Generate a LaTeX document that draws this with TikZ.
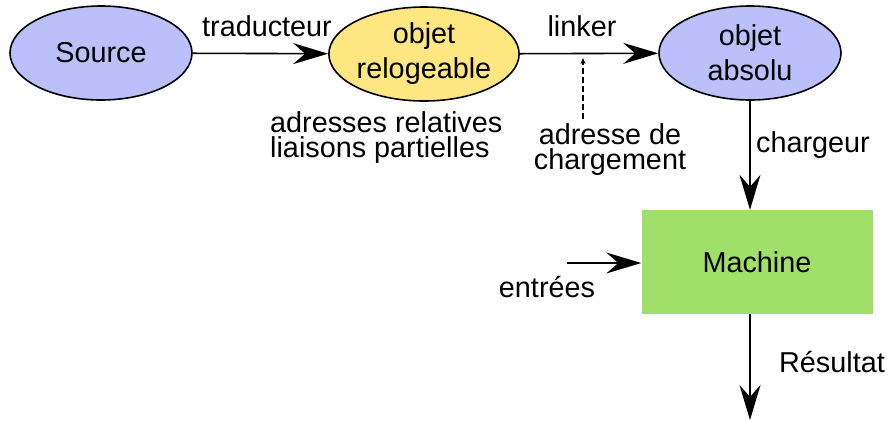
\documentclass[tikz,border=0pt]{standalone}
\usepackage{fontspec}
\setmainfont{Liberation Sans}
\usetikzlibrary{shapes.geometric,arrows.meta}
\definecolor{lav}{RGB}{187,191,250}
\definecolor{yel}{RGB}{254,230,128}
\definecolor{grn}{RGB}{160,224,106}
\begin{document}
\begin{tikzpicture}[x=1pt,y=-1pt,
  every node/.style={font=\fontsize{28.8}{35}\selectfont, inner sep=0pt},
  blob/.style={ellipse, draw, line width=1.6pt, minimum width=182pt, minimum height=94pt, align=center},
  captxt/.style={align=left, font=\fontsize{28.8}{25}\selectfont, anchor=base west},
  lbl/.style={anchor=base},
  flow/.style={line width=1.6pt, -{Stealth[length=35pt,width=21pt,inset=12pt]}},
  hint/.style={line width=1.3pt, dash pattern=on 6pt off 3pt, -{Stealth[length=6pt,width=5pt]}}]
\useasboundingbox (0,0) rectangle (887,421);
\node[blob, fill=lav] (src) at (101,53) {Source};
\node[blob, fill=yel] (rel) at (424,54) {objet\\relogeable};
\node[blob, fill=lav] (abs) at (750,53) {objet\\absolu};
\node[fill=grn, minimum width=231pt, minimum height=104pt] (mach) at (757,262) {Machine};
\coordinate (inp) at (567,263);
\coordinate (res) at (750,420);
\coordinate (dtip) at (583,58);
\coordinate (dfoot) at (583,119);
\draw[flow] (src) -- (rel);
\draw[flow] (rel) -- (abs);
\draw[flow] (abs.south) -- (abs.south |- mach.north);
\draw[flow] (inp) -- (mach.west |- inp);
\draw[flow] (abs.south |- mach.south) -- (res);
\draw[hint] (dfoot) -- (dtip);
\node[lbl] (ltrad) at (267,36) {traducteur};
\node[lbl] (llink) at (582,36) {linker};
\node[lbl] (lchar) at (813,152) {chargeur};
\node[lbl] (lent) at (547,297) {entrées};
\node[lbl] (lres) at (832,372) {Résultat};
\node[captxt] (crel) at (270,157) {adresses relatives\\liaisons partielles};
\node[captxt, align=center, anchor=base] (cadr) at (610,169) {adresse de\\chargement};
\end{tikzpicture}
\end{document}
